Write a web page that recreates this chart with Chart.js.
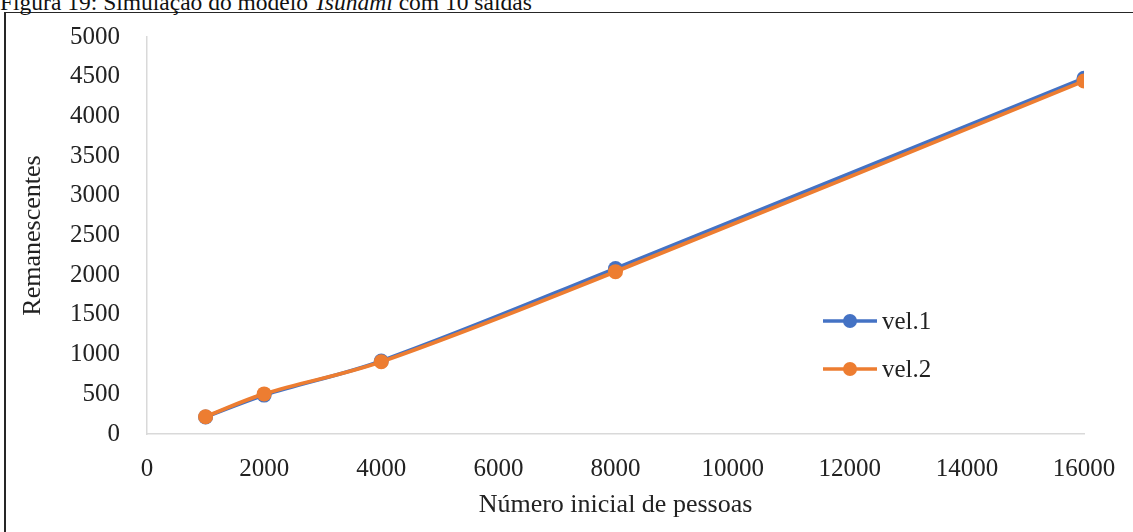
<!DOCTYPE html>
<html>
<head>
<meta charset="utf-8">
<script src="https://cdn.jsdelivr.net/npm/chart.js@4"></script>
<style>
  html, body { margin: 0; padding: 0; background: #fff; }
  #wrap { position: relative; width: 1133px; height: 532px; overflow: hidden; }
  #box { position: absolute; left: 4px; top: 12px; width: 1200px; height: 600px;
         border-left: 2px solid #262626; border-top: 1px solid #262626; }
  #caption { position: absolute; left: 0; top: -10px; font: 23.5px "Liberation Serif", serif;
             line-height: 24px; color: #111; white-space: nowrap; }
  canvas { position: absolute; left: 0; top: 0; }
</style>
</head>
<body>
<div id="wrap">
  <div id="box"></div>
  <div id="caption">Figura 19: Simulação do modelo <i>Tsunami</i> com 10 saídas</div>
  <canvas id="chart" width="1133" height="532"></canvas>
</div>
<script>
// pessoas iniciais (eixo x)
const pessoas = [1000, 2000, 4000, 8000, 16000];
// remanescentes por velocidade
const vel1 = [215, 490, 920, 2085, 4480];
const vel2 = [218, 505, 910, 2045, 4445];
const nomes = ['vel.1', 'vel.2'];

const AZUL = '#4472C4';
const LARANJA = '#ED7D31';
const FONTE = '"Liberation Serif", "Times New Roman", serif';

function pontos(xs, ys) {
    return xs.map((x, i) => ({ x: x, y: ys[i] }));
}

// legenda desenhada dentro da area do grafico, como no Excel
const legendaInterna = {
    id: 'legendaInterna',
    afterDraw(chart) {
        const ctx = chart.ctx;
        const area = chart.chartArea;
        const x0 = area.left + 676;
        let y = area.top + 284;
        ctx.save();
        chart.data.datasets.forEach(ds => {
            ctx.strokeStyle = ds.borderColor;
            ctx.lineWidth = 3.5;
            ctx.beginPath();
            ctx.moveTo(x0, y);
            ctx.lineTo(x0 + 54, y);
            ctx.stroke();
            ctx.fillStyle = ds.borderColor;
            ctx.beginPath();
            ctx.arc(x0 + 27, y, 7, 0, Math.PI * 2);
            ctx.fill();
            ctx.fillStyle = '#222';
            ctx.font = '25px ' + FONTE;
            ctx.textBaseline = 'middle';
            ctx.textAlign = 'left';
            ctx.fillText(ds.label, x0 + 59, y + 1);
            y += 48;
        });
        ctx.restore();
    }
};

const semMilhar = v => String(v);

const ctx = document.getElementById('chart').getContext('2d');
new Chart(ctx, {
    type: 'line',
    data: {
        datasets: [
            {
                label: nomes[0],
                data: pontos(pessoas, vel1),
                borderColor: AZUL,
                backgroundColor: AZUL,
                borderWidth: 3.8,
                pointRadius: 7.5,
                pointBorderWidth: 0,
                tension: 0.35,
                fill: false,
                order: 1
            },
            {
                label: nomes[1],
                data: pontos(pessoas, vel2),
                borderColor: LARANJA,
                backgroundColor: LARANJA,
                borderWidth: 3.8,
                pointRadius: 7.5,
                pointBorderWidth: 0,
                tension: 0.35,
                fill: false,
                order: 0
            }
        ]
    },
    options: {
        responsive: false,
        animation: false,
        layout: { padding: { left: 18, top: 37, right: 49, bottom: 0 } },
        plugins: {
            legend: { display: false },
            tooltip: { enabled: false }
        },
        scales: {
            x: {
                type: 'linear',
                min: 0,
                max: 16000,
                grid: { display: false },
                border: { display: true, color: '#d9d9d9', width: 1.5 },
                ticks: {
                    stepSize: 2000,
                    padding: 12,
                    color: '#222',
                    font: { family: FONTE, size: 25 },
                    callback: semMilhar
                },
                title: {
                    display: true,
                    text: 'Número inicial de pessoas',
                    color: '#222',
                    font: { family: FONTE, size: 26 },
                    padding: { top: 0, bottom: 11 }
                },
                afterFit(scale) { scale.height = 98; }
            },
            y: {
                min: 0,
                max: 5000,
                grid: { display: false },
                border: { display: true, color: '#d9d9d9', width: 1.5 },
                ticks: {
                    stepSize: 500,
                    padding: 19,
                    color: '#222',
                    font: { family: FONTE, size: 25 },
                    callback: semMilhar
                },
                title: {
                    display: true,
                    text: 'Remanescentes',
                    color: '#222',
                    font: { family: FONTE, size: 26 },
                    padding: { top: 0, bottom: 0 }
                },
                afterFit(scale) { scale.width = 129; }
            }
        }
    },
    plugins: [legendaInterna]
});
</script>
</body>
</html>
